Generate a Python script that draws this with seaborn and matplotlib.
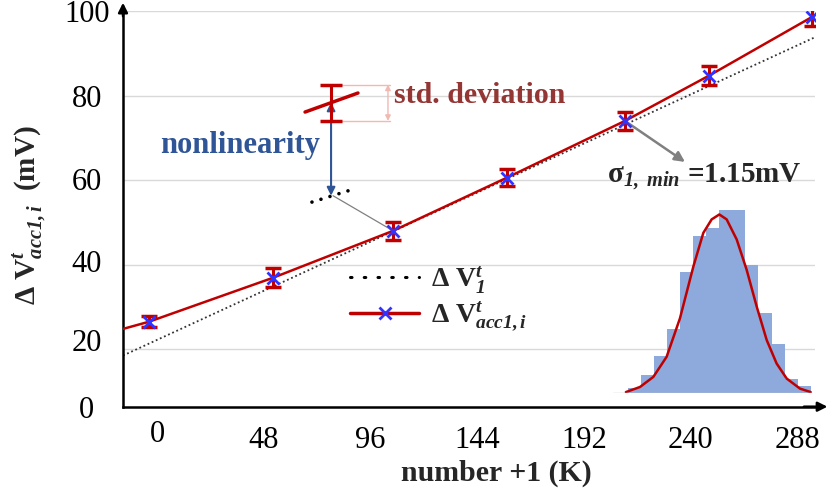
import matplotlib
matplotlib.use("Agg")
import matplotlib.pyplot as plt
import matplotlib.transforms as mtransforms
from matplotlib.lines import Line2D
import seaborn as sns

x_pts = [-3.6, 52.2, 106.2, 157.5, 210.5, 248.3, 294.7]
y_pts = [26.5, 36.9, 48.0, 60.6, 74.0, 84.7, 98.6]
y_err = [1.3, 2.3, 2.2, 2.1, 2.2, 2.2, 2.2]

# accumulated curve and linear reference
x_acc = [-15.3, -3.6, 52.2, 106.2, 157.5, 210.5, 248.3, 294.7]
y_acc = [24.8, 26.5, 36.9, 48.0, 60.6, 74.0, 84.7, 98.6]
x_lin = [-15.3, 295.6]
y_lin = [18.5, 93.7]

x_ticks = [0, 48, 96, 144, 192, 240, 288]
y_ticks = [6.4, 20, 40, 60, 80, 100]
y_ticklabels = ["0", "20", "40", "60", "80", "100"]

# inset histogram (relative counts per bin) and fitted curve
hist_counts = [0.2, 3, 10, 20, 35, 66, 86, 90, 100, 100, 70, 44, 27, 7.5, 3.8]
fit_x = [0.84, 1.92, 2.94, 3.96, 4.98, 6.01, 6.77, 7.41, 8.0, 8.56, 9.33,
         10.09, 10.86, 11.63, 12.39, 13.16, 14.18, 15.0]
fit_y = [0.5, 3.3, 8.8, 19.8, 40.8, 69.2, 87.5, 94.9, 97.6, 94.9, 83.9,
         67.4, 47.3, 28.9, 16.1, 7.9, 2.4, 0.5]

# sketch of one point (nonlinearity / std. deviation illustration)
demo_seg_x = [66.6, 90.4]
demo_seg_y = [76.1, 80.6]
demo_x, demo_y, demo_err = 78.3, 78.3, 4.3
demo_dots_x = [69.7, 88.6]
demo_dots_y = [54.8, 57.9]

RED = "#C00000"
BLUE = "#3333FF"
NAVY = "#2F5597"
BROWN = "#943634"
PINK = "#F2B8B2"

sns.set_theme(style="white")
plt.rcParams["font.family"] = ["Liberation Serif", "DejaVu Serif"]
plt.rcParams["mathtext.fontset"] = "custom"
plt.rcParams["mathtext.rm"] = "Liberation Serif"
plt.rcParams["mathtext.it"] = "Liberation Serif:italic"
plt.rcParams["mathtext.bf"] = "Liberation Serif:bold"
plt.rcParams["mathtext.bfit"] = "Liberation Serif:italic:bold"

fig = plt.figure(figsize=(8.32, 4.95), dpi=100)
ax = fig.add_axes([123 / 832, 1 - 406.7 / 495, 692 / 832, 395.7 / 495])

ax.set_xlim(-15.3, 296)
ax.set_ylim(6.4, 100)

for v in y_ticks[1:]:
    ax.axhline(v, color="#D9D9D9", lw=1, zorder=0)

sns.lineplot(x=x_lin, y=y_lin, ax=ax, color="#333333", lw=1.3, ls=(0, (1, 1.5)), zorder=2)
sns.lineplot(x=x_acc, y=y_acc, ax=ax, color=RED, lw=1.8, sort=False, zorder=3)
ax.errorbar(x_pts, y_pts, yerr=y_err, fmt="none", ecolor=RED, elinewidth=2.2,
            capsize=6, capthick=2.5, zorder=4)
ax.plot(x_pts, y_pts, ls="none", marker="x", ms=8, mew=2, color=BLUE, zorder=5)

# spines with arrows
for s in ["top", "right"]:
    ax.spines[s].set_visible(False)
for s in ["left", "bottom"]:
    ax.spines[s].set_color("black")
    ax.spines[s].set_linewidth(1.8)
ax.annotate("", xy=(0, 1.028), xytext=(0, 0.98), xycoords="axes fraction",
            arrowprops=dict(arrowstyle="-|>", color="black", lw=1.8, mutation_scale=14))
ax.annotate("", xy=(1.022, 0), xytext=(0.98, 0), xycoords="axes fraction",
            arrowprops=dict(arrowstyle="-|>", color="black", lw=1.8, mutation_scale=14))

# ticks
ax.set_xticks(x_ticks)
ax.set_yticks(y_ticks)
ax.set_yticklabels(y_ticklabels)
ax.tick_params(axis="both", length=0, labelsize=22, colors="black")
ax.tick_params(axis="y", pad=26)
ax.tick_params(axis="x", pad=14)
y_shift_px = [0, 9, 4, 1, 0, 0]
for lab, dy in zip(ax.get_yticklabels(), y_shift_px):
    lab.set_ha("center")
    lab.set_transform(lab.get_transform() +
                      mtransforms.ScaledTranslation(0, dy / 100, fig.dpi_scale_trans))
xl0 = ax.get_xticklabels()[0]
xl0.set_transform(xl0.get_transform() +
                  mtransforms.ScaledTranslation(0, 6 / 100, fig.dpi_scale_trans))

ax.set_xlabel("number +1 (K)", fontsize=21.5, fontweight="bold")
ax.xaxis.set_label_coords(0.54, -0.135)
ax.set_ylabel(r"Δ V$^{\mathbfit{t}}_{\mathbfit{acc1,i}}$  (mV)", fontsize=21,
              fontweight="bold")
ax.yaxis.set_label_coords(-0.108, 0.485)

# legend
h_lin = Line2D([], [], color="black", lw=2.2, ls=(0, (0.5, 4)), dash_capstyle="round")
h_acc = Line2D([], [], color=RED, lw=2.5, marker="x", ms=8, mew=2, mec=BLUE)
ax.legend([h_lin, h_acc],
          [r"$\mathbf{Δ\ V}^{\mathbfit{t}}_{\mathbfit{1}}$",
           r"$\mathbf{Δ\ V}^{\mathbfit{t}}_{\mathbfit{acc1,i}}$"],
          loc="upper left", bbox_to_anchor=(0.328, 0.36), frameon=False,
          fontsize=20, handlelength=2.5, handletextpad=0.4, labelspacing=0.15,
          borderpad=0, borderaxespad=0)

# illustration: nonlinearity and std deviation
ax.plot(demo_seg_x, demo_seg_y, color=RED, lw=2.5, solid_capstyle="round", zorder=4)
ax.errorbar([demo_x], [demo_y], yerr=[demo_err], fmt="none", ecolor=RED,
            elinewidth=2.2, capsize=8, capthick=2.5, zorder=4)
ax.plot(demo_dots_x, demo_dots_y, color="black", lw=2.6, ls=(0, (0.01, 2.6)),
        dash_capstyle="round", zorder=4)
ax.annotate("", xy=(demo_x, demo_y + 0.1), xytext=(demo_x, 56.3),
            arrowprops=dict(arrowstyle="<|-|>", color=NAVY, lw=1.5, mutation_scale=12,
                            shrinkA=0, shrinkB=0))
ax.plot([demo_x + 4, 104.8], [demo_y + demo_err] * 2, color=PINK, lw=1, zorder=1)
ax.plot([demo_x + 4, 104.8], [demo_y - demo_err] * 2, color=PINK, lw=1, zorder=1)
ax.annotate("", xy=(103.9, demo_y + demo_err), xytext=(103.9, demo_y - demo_err),
            arrowprops=dict(arrowstyle="<|-|>", color=PINK, lw=1, mutation_scale=8,
                            shrinkA=0, shrinkB=0))
ax.plot([79.2, x_pts[2]], [56.3, y_pts[2]], color="#808080", lw=0.9, zorder=3)
ax.text(37.5, 68.3, "nonlinearity", color=NAVY, fontsize=22, fontweight="bold",
        ha="center", va="center")
ax.text(106.5, 80.1, "std. deviation", color=BROWN, fontsize=21.5, fontweight="bold",
        ha="left", va="center")

# sigma annotation
ax.annotate("", xy=(237.5, 64.3), xytext=(x_pts[4], y_pts[4]),
            arrowprops=dict(arrowstyle="-|>", color="#808080", lw=1.8, mutation_scale=15,
                            shrinkA=2, shrinkB=0))
ax.text(202.5, 60.8, r"σ$_{\mathbfit{1,\ min}}$ =1.15mV", fontsize=21,
        fontweight="bold", ha="left", va="center")

# inset histogram
ins = fig.add_axes([613 / 832, 1 - 393 / 495, 199 / 832, 193 / 495])
ins.bar(range(len(hist_counts)), hist_counts, width=1.0, align="edge",
        color="#8EA9DB", linewidth=0)
sns.lineplot(x=fit_x, y=fit_y, ax=ins, color=RED, lw=1.8, sort=False)
ins.axhline(0, color="#C8C8C8", lw=1)
ins.set_xlim(-0.15, 15.1)
ins.set_ylim(0, 105.5)
ins.axis("off")
ins.patch.set_visible(True)
ins.patch.set_facecolor("white")
ins.set_zorder(1)

fig.savefig("out.png", dpi=100)
